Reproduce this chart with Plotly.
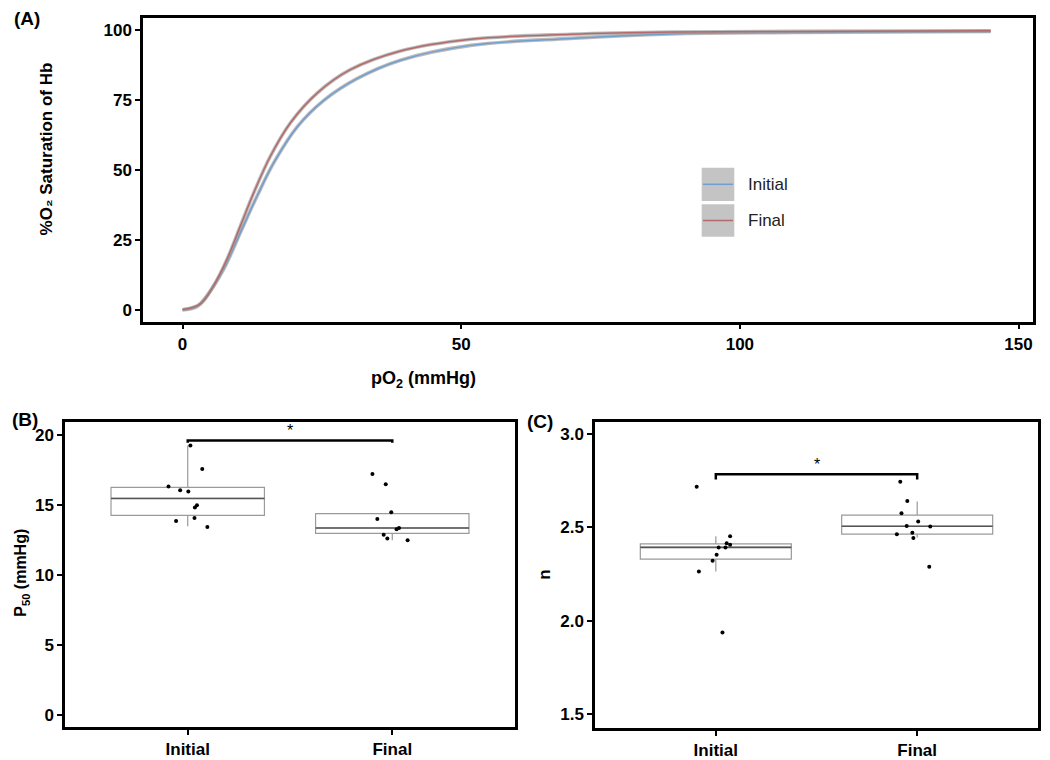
import plotly.graph_objects as go

# ---- data ----
# (A) oxygen dissociation curves
initial_po2 = [0, 2.5, 4.4, 7.4, 10.4, 13.4, 16.4, 20.6, 25.4, 31.3, 39.1, 51.7, 69.6, 87.6, 110, 145]
initial_sat = [0, 1.0, 5.1, 14.6, 27.7, 40.8, 52.7, 65.5, 75.0, 82.7, 89.3, 94.6, 97.1, 98.7, 99.2, 99.6]
final_po2 = [0, 3.2, 5.6, 8.0, 10.4, 12.8, 15.8, 19.4, 24.2, 30.1, 39.1, 51.7, 69.6, 87.6, 110, 145]
final_sat = [0, 2.1, 8.7, 18.2, 30.1, 42.0, 55.1, 67.0, 77.6, 85.9, 92.6, 96.8, 98.6, 99.4, 99.6, 99.8]

groups = ['Initial', 'Final']

# (B) P50 per sample
p50_initial = [19.25, 17.58, 16.33, 16.06, 15.97, 14.98, 14.83, 14.07, 13.86, 13.43]
p50_initial_jitter = [0.013, 0.071, -0.094, -0.037, 0.003, 0.045, 0.035, 0.033, -0.057, 0.096]
p50_final = [17.22, 16.49, 14.48, 14.00, 13.36, 13.27, 12.88, 12.60, 12.48]
p50_final_jitter = [-0.097, -0.032, -0.005, -0.073, 0.033, 0.021, -0.042, -0.024, 0.075]
p50_q1 = [14.26, 12.98]
p50_median = [15.47, 13.36]
p50_q3 = [16.26, 14.38]
p50_low = [13.48, 12.48]
p50_high = [19.25, 14.48]

# (C) Hill coefficient per sample
n_initial = [2.717, 2.453, 2.415, 2.407, 2.393, 2.393, 2.354, 2.322, 2.264, 1.938]
n_initial_jitter = [-0.095, 0.071, 0.054, 0.071, 0.014, 0.048, 0.004, -0.016, -0.084, 0.033]
n_final = [2.744, 2.641, 2.575, 2.531, 2.508, 2.505, 2.463, 2.471, 2.443, 2.289]
n_final_jitter = [-0.084, -0.049, -0.078, 0.005, -0.052, 0.065, -0.101, -0.024, -0.019, 0.060]
n_q1 = [2.330, 2.464]
n_median = [2.393, 2.506]
n_q3 = [2.412, 2.566]
n_low = [2.264, 2.446]
n_high = [2.453, 2.639]

# significance brackets: (bracket y, end y, star y)
p50_sig = [19.62, 19.45, 20.36]
n_sig = [2.784, 2.756, 2.835]

blue = '#6f9fd0'
red = '#b46a6a'
ribbon = 'rgba(160,160,160,0.7)'
box_line = '#9a9a9a'
font_family = 'Liberation Sans, Arial, sans-serif'

# page body has an 8px margin, so the figure is drawn 8px in from the corner
OFF = 8
W, H = 1050 - OFF, 760 - OFF


def px_x(v):
    return (v - OFF) / W


def px_y(v):
    return 1 - (v - OFF) / H


fig = go.Figure()

# panel A curves: gray band underneath, coloured line on top
for xs, ys, col in [(initial_po2, initial_sat, blue), (final_po2, final_sat, red)]:
    fig.add_trace(go.Scatter(x=xs, y=ys, mode='lines', line=dict(color=ribbon, width=3.6, shape='spline'),
                             xaxis='x', yaxis='y', showlegend=False, hoverinfo='skip'))
    fig.add_trace(go.Scatter(x=xs, y=ys, mode='lines', line=dict(color=col, width=1.5, shape='spline'),
                             xaxis='x', yaxis='y', showlegend=False))


def box_panel(ax, q1, med, q3, low, high, pts, jit, sig):
    xa = 'x' + ax
    ya = 'y' + ax
    fig.add_trace(go.Box(x=[1, 2], q1=q1, median=med, q3=q3, lowerfence=low, upperfence=high,
                         width=0.75, whiskerwidth=0, boxpoints=False,
                         fillcolor='rgba(255,255,255,0)', line=dict(color=box_line, width=1.2),
                         xaxis=xa, yaxis=ya, showlegend=False))
    for i, m in enumerate(med):
        c = i + 1
        fig.add_trace(go.Scatter(x=[c - 0.375, c + 0.375], y=[m, m], mode='lines',
                                 line=dict(color='#555555', width=1.6),
                                 xaxis=xa, yaxis=ya, showlegend=False, hoverinfo='skip'))
    for i, (vals, js) in enumerate(zip(pts, jit)):
        c = i + 1
        fig.add_trace(go.Scatter(x=[c + j for j in js], y=vals, mode='markers',
                                 marker=dict(color='black', size=4),
                                 xaxis=xa, yaxis=ya, showlegend=False))
    fig.add_trace(go.Scatter(x=[1, 1, 2, 2], y=[sig[1], sig[0], sig[0], sig[1]], mode='lines',
                             line=dict(color='black', width=2.5),
                             xaxis=xa, yaxis=ya, showlegend=False, hoverinfo='skip'))
    fig.add_annotation(x=1.5, y=sig[2], xref=xa, yref=ya, text='*', showarrow=False,
                       font=dict(size=16, color='black', family=font_family))


box_panel('2', p50_q1, p50_median, p50_q3, p50_low, p50_high,
          [p50_initial, p50_final], [p50_initial_jitter, p50_final_jitter], p50_sig)
box_panel('3', n_q1, n_median, n_q3, n_low, n_high,
          [n_initial, n_final], [n_initial_jitter, n_final_jitter], n_sig)

tickfont = dict(family=font_family, size=17, color='black', weight='bold')
axis_common = dict(showline=True, mirror=True, linecolor='black', linewidth=2.5,
                   ticks='outside', ticklen=5, tickwidth=2, tickcolor='black',
                   showgrid=False, zeroline=False, tickfont=tickfont)

fig.update_layout(
    width=W, height=H,
    margin=dict(l=0, r=0, t=0, b=0),
    paper_bgcolor='white', plot_bgcolor='white',
    xaxis=dict(domain=[px_x(143), px_x(1033)], range=[-7.1, 152.6],
               tickvals=[0, 50, 100, 150], anchor='y', **axis_common),
    yaxis=dict(domain=[px_y(323), px_y(18.3)], range=[-4.3, 104.3],
               tickvals=[0, 25, 50, 75, 100], anchor='x', **axis_common),
    xaxis2=dict(domain=[px_x(65), px_x(515)], range=[0.4, 2.6],
                tickvals=[1, 2], ticktext=groups, anchor='y2', **axis_common),
    yaxis2=dict(domain=[px_y(730), px_y(423.5)], range=[-0.88, 20.95],
                tickvals=[0, 5, 10, 15, 20], anchor='x2', **axis_common),
    xaxis3=dict(domain=[px_x(595), px_x(1038)], range=[0.4, 2.6],
                tickvals=[1, 2], ticktext=groups, anchor='y3', **axis_common),
    yaxis3=dict(domain=[px_y(731), px_y(424)], range=[1.426, 3.062],
                tickvals=[1.5, 2.0, 2.5, 3.0], tickformat='.1f', anchor='x3', **axis_common),
)

# manual legend for panel A (gray keys with coloured lines)
legend_rows = [('Initial', blue, 168.3, 201.7), ('Final', red, 205, 237.7)]
for label, col, top, bot in legend_rows:
    fig.add_shape(type='rect', xref='paper', yref='paper',
                  x0=px_x(701.7), x1=px_x(734.3), y0=px_y(bot), y1=px_y(top),
                  fillcolor='#c4c4c4', line=dict(width=0))
    mid = (top + bot) / 2
    fig.add_shape(type='line', xref='paper', yref='paper',
                  x0=px_x(703), x1=px_x(733), y0=px_y(mid), y1=px_y(mid),
                  line=dict(color=col, width=1.5))
    fig.add_annotation(x=px_x(746), y=px_y(mid), xref='paper', yref='paper', text=label,
                       showarrow=False, xanchor='left', yanchor='middle',
                       font=dict(family=font_family, size=17, color='#222222'))

title_font = dict(family=font_family, size=17, color='black', weight='bold')
label_font = dict(family=font_family, size=19, color='black', weight='bold')
texts = [
    ('pO<sub>2</sub> (mmHg)', 423, 381, 0, dict(title_font, size=18)),
    ('%O₂ Saturation of Hb', 46, 150, -90, title_font),
    ('P<sub>50</sub> (mmHg)', 22, 575, -90, dict(title_font, size=16)),
    ('n', 545, 577, -90, title_font),
    ('(A)', 27, 19, 0, label_font),
    ('(B)', 25, 421, 0, label_font),
    ('(C)', 540, 423, 0, label_font),
]
for t, x, y, ang, f in texts:
    fig.add_annotation(x=px_x(x), y=px_y(y), xref='paper', yref='paper', text=t,
                       showarrow=False, textangle=ang, xanchor='center', yanchor='middle', font=f)

fig.write_html("out.html")
